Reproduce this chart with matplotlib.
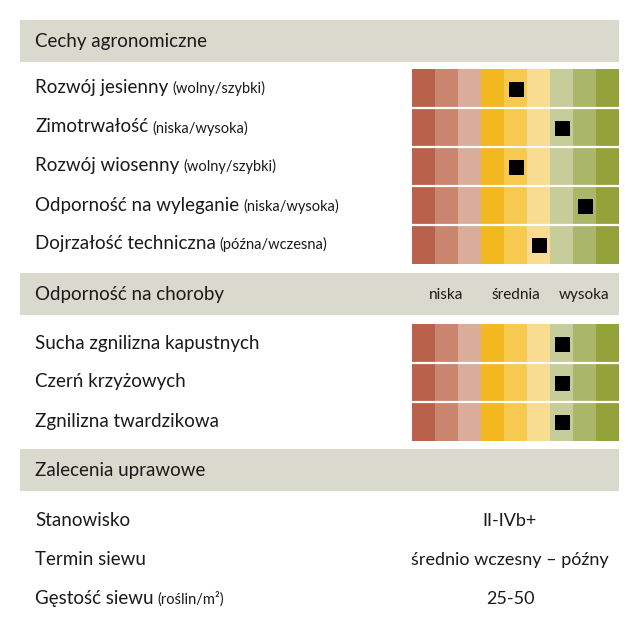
import matplotlib
matplotlib.use("Agg")
import matplotlib.pyplot as plt

plt.rcParams['font.family'] = ['Lato', 'DejaVu Sans']

# data
scale_colors = ['#b9614a', '#c9856d', '#d9ad99', '#f2b820', '#f6ca50',
                '#f8dc91', '#c7cc9b', '#aab66a', '#94a23a']

agro_labels = ['Rozwój jesienny', 'Zimotrwałość', 'Rozwój wiosenny',
               'Odporność na wyleganie', 'Dojrzałość techniczna']
agro_hints = ['(wolny/szybki)', '(niska/wysoka)', '(wolny/szybki)',
              '(niska/wysoka)', '(późna/wczesna)']
agro_scores = [4, 6, 4, 7, 5]

disease_labels = ['Sucha zgnilizna kapustnych', 'Czerń krzyżowych',
                  'Zgnilizna twardzikowa']
disease_scores = [6, 6, 6]
scale_words = ['niska', 'średnia', 'wysoka']
scale_word_pos = [1, 4, 7]

rec_labels = ['Stanowisko', 'Termin siewu', 'Gęstość siewu']
rec_hints = ['', '', '(roślin/m²)']
rec_values = ['II-IVb+', 'średnio wczesny – późny', '25-50']

headers = ['Cechy agronomiczne', 'Odporność na choroby', 'Zalecenia uprawowe']

W, H = 640, 628
fig = plt.figure(figsize=(W / 100, H / 100), dpi=100)
ax = fig.add_axes([0, 0, 1, 1])
ax.set_xlim(0, W)
ax.set_ylim(H, 0)
ax.axis('off')

txt_color = '#1a1a1a'
hdr_color = '#d9d9cd'
hdr_top = [20, 273, 449]
for top, txt in zip(hdr_top, headers):
    ax.add_patch(plt.Rectangle((20, top), 599, 42, color=hdr_color, lw=0))
    ax.text(35, top + 21.5, txt, fontsize=13.5, va='center', color=txt_color)

renderer = fig.canvas.get_renderer()


def label(x, y, main, hint):
    t = ax.text(x, y + 5, main, fontsize=13.5, va='baseline', color=txt_color)
    if hint:
        bb = t.get_window_extent(renderer)
        x2 = ax.transData.inverted().transform((bb.x1, 0))[0]
        ax.text(x2 + 4, y + 5, hint, fontsize=10.5, va='baseline',
                color=txt_color)


def grid(top, bottom, scores):
    n = len(scores)
    gx = fig.add_axes([412 / W, 1 - bottom / H, 207 / W, (bottom - top) / H])
    gx.set_xlim(0, 9)
    gx.set_ylim(n, 0)
    gx.axis('off')
    for c, col in enumerate(scale_colors):
        gx.barh([r + 0.5 for r in range(n)], 1, left=c, height=1,
                color=col, lw=0)
    for r in range(1, n):
        gx.axhline(r, color='white', lw=1.6)
    gx.plot([s + 0.5 for s in scores], [r + 0.5 for r in range(n)], 's',
            color='black', ms=10.8, mew=0)
    return gx


grid(69, 264, agro_scores)
row_h = (264 - 69) / len(agro_labels)
for i, (lab, hint) in enumerate(zip(agro_labels, agro_hints)):
    label(35, 69 + row_h * (i + 0.5), lab, hint)

grid(324, 441, disease_scores)
row_h = (441 - 324) / len(disease_labels)
for i, lab in enumerate(disease_labels):
    label(35, 324 + row_h * (i + 0.5), lab, '')
for w, p in zip(scale_words, scale_word_pos):
    ax.text(412 + 23 * (p + 0.5), 295, w, fontsize=11, ha='center',
            va='center', color=txt_color)

for i, (lab, hint, val) in enumerate(zip(rec_labels, rec_hints, rec_values)):
    y = 521 + 39 * i
    label(35, y, lab, hint)
    ax.text(510, y, val, fontsize=13, ha='center', va='center',
            color=txt_color)

fig.savefig('out.png', dpi=100, facecolor='white')
